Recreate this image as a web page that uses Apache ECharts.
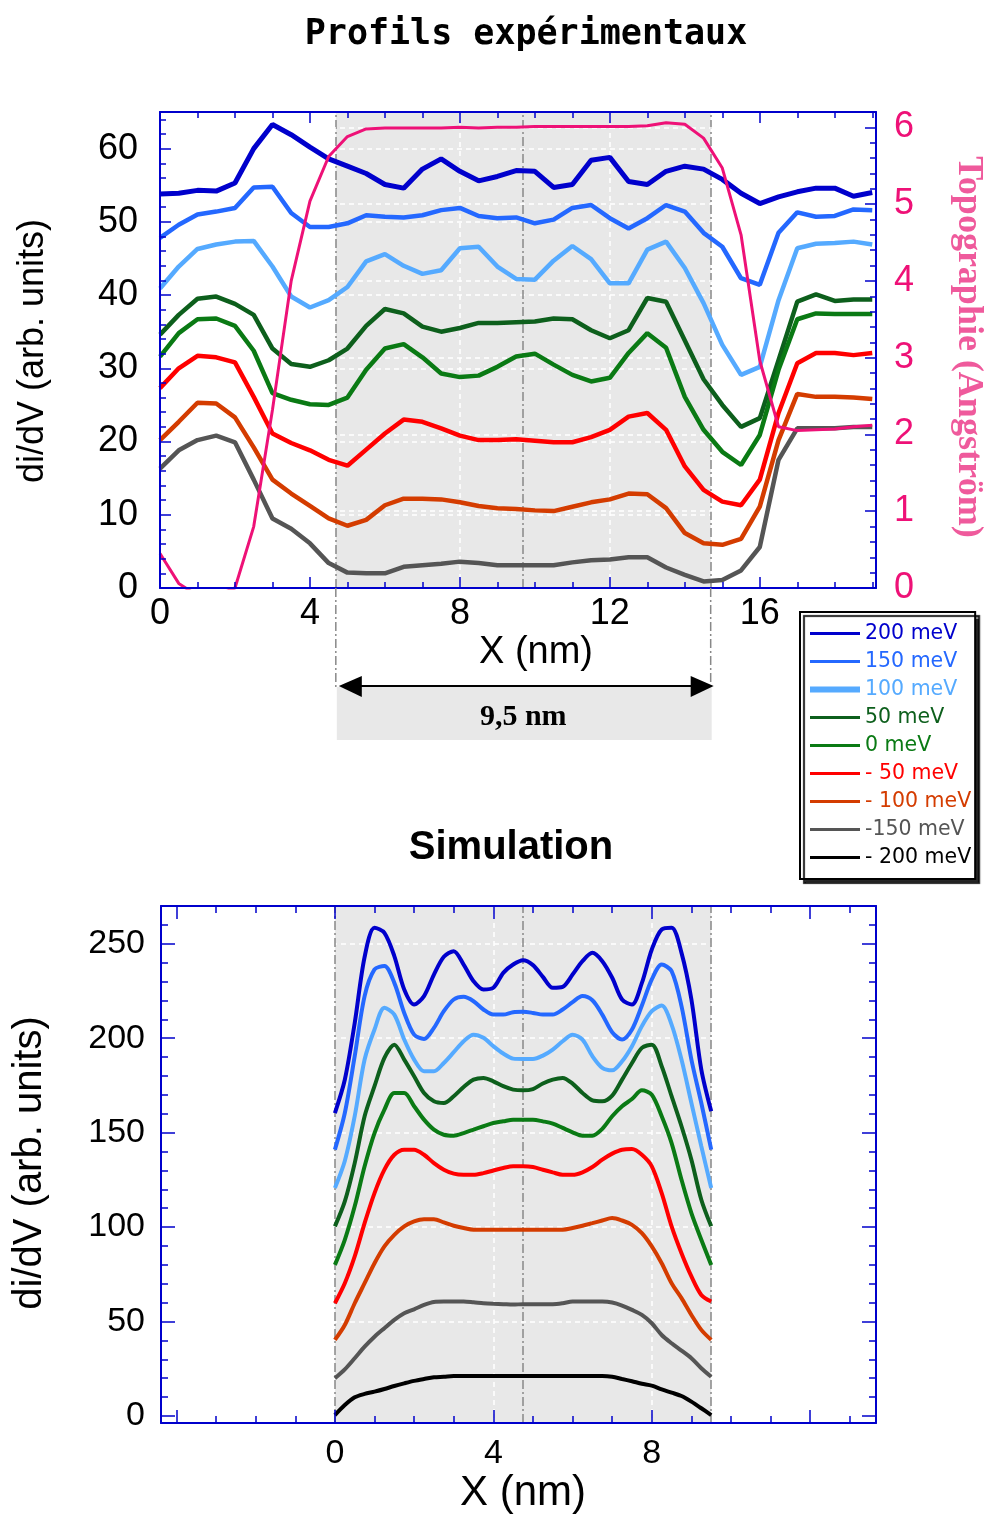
<!DOCTYPE html>
<html><head><meta charset="utf-8">
<script src="https://cdn.jsdelivr.net/npm/echarts@6/dist/echarts.min.js"></script>
<style>html,body{margin:0;padding:0;background:#fff}#c{width:991px;height:1515px}</style>
</head><body><div id="c"></div>
<script>
// ---------- DATA ----------
const names = ['200 meV','150 meV','100 meV','50 meV','0 meV','- 50 meV','- 100 meV','-150 meV','- 200 meV'];
const colors = ['#0000cc','#2468ff','#55aaff','#0d5f1c','#0a7a14','#ff0000','#d43c00','#555555','#000000'];

// Experimental profiles (X in nm)
const expX = [0,0.5,1,1.5,2,2.5,3,3.5,4,4.5,5,5.5,6,6.5,7,7.5,8,8.5,9,9.5,10,10.5,11,11.5,12,12.5,13,13.5,14,14.5,15,15.5,16,16.5,17,17.5,18,18.5,19];
const exp200 = [53.8,53.9,54.3,54.2,55.3,60.0,63.3,61.9,60.2,58.6,57.6,56.6,55.1,54.6,57.2,58.6,56.9,55.6,56.2,57.0,56.9,54.7,55.1,58.4,58.8,55.5,55.1,56.9,57.6,57.2,55.8,53.9,52.5,53.4,54.1,54.6,54.6,53.5,54.0];
const exp150 = [47.8,49.6,51.0,51.4,51.9,54.7,54.8,51.2,49.3,49.3,49.8,50.9,50.7,50.6,50.9,51.6,51.9,50.8,50.5,50.6,49.8,50.3,51.9,52.3,50.5,49.1,50.5,52.3,51.4,48.5,46.6,42.3,41.4,48.5,51.3,50.7,50.8,51.7,51.6];
const exp100 = [40.9,43.9,46.3,46.9,47.3,47.4,43.9,39.8,38.3,39.3,41.1,44.6,45.6,44.0,42.9,43.4,46.4,46.6,43.9,42.2,42.1,44.7,46.7,44.9,41.6,41.6,46.2,47.3,43.7,38.9,33.2,29.1,30.2,39.3,46.4,47.0,47.1,47.3,46.9];
const exp50 = [34.6,37.3,39.5,39.8,38.8,37.3,32.7,30.6,30.2,31.1,32.7,35.8,38.1,37.5,35.7,35.0,35.5,36.2,36.2,36.3,36.4,36.8,36.7,35.2,34.1,35.2,39.6,39.1,33.8,28.5,25.0,22.0,23.2,31.1,39.1,40.1,39.2,39.4,39.4];
const exp0 = [31.6,34.8,36.7,36.8,35.8,32.4,26.6,25.7,25.1,25.0,26.0,29.8,32.7,33.3,31.5,29.3,28.8,29.0,30.2,31.6,32.0,30.5,29.1,28.2,28.7,32.1,34.8,32.8,26.1,21.6,18.6,16.8,20.9,29.8,36.7,37.5,37.4,37.4,37.4];
const expM50 = [27.3,30.0,31.7,31.5,30.8,26.1,21.1,19.8,18.8,17.5,16.7,18.9,21.1,23.0,22.7,21.8,20.8,20.2,20.2,20.3,20.1,19.9,19.9,20.6,21.6,23.4,23.9,21.6,16.6,13.4,11.8,11.3,14.8,23.9,30.7,32.1,32.1,31.8,32.1];
const expM100 = [20.2,22.7,25.3,25.2,23.3,19.2,14.8,12.9,11.2,9.5,8.5,9.3,11.3,12.2,12.2,12.1,11.7,11.2,10.9,10.8,10.6,10.5,11.1,11.7,12.1,12.9,12.8,10.9,7.5,6.1,5.9,6.7,11.1,20.2,26.5,26.1,26.1,26.0,25.8];
const expM150 = [16.3,18.8,20.2,20.8,19.9,14.8,9.5,8.1,6.1,3.4,2.1,2.0,2.0,2.9,3.1,3.3,3.6,3.4,3.1,3.1,3.1,3.1,3.5,3.8,3.9,4.2,4.2,2.8,1.8,0.9,1.1,2.4,5.6,17.5,21.8,21.8,21.8,22.0,22.0];
const topo = [0.45,0.06,-0.1,-0.1,0.0,0.8,2.32,4.0,5.04,5.62,5.88,5.98,5.99,5.99,5.99,5.99,6.0,5.99,6.0,6.0,6.01,6.01,6.01,6.01,6.01,6.01,6.02,6.06,6.04,5.86,5.47,4.6,2.96,2.1,2.05,2.06,2.07,2.1,2.12];

// Simulation (X in nm)
const simX = [0,0.25,0.5,0.75,1,1.25,1.5,1.75,2,2.25,2.5,2.75,3,3.25,3.5,3.75,4,4.25,4.5,4.75,5,5.25,5.5,5.75,6,6.25,6.5,6.75,7,7.25,7.5,7.75,8,8.25,8.5,8.75,9,9.25,9.5];
const sim200 = [160.4,178,208,243,258.5,255.8,243.5,225.8,217.8,222.3,233.7,243.1,246.1,239,230.2,225.8,226.7,234.6,239,241.3,238.7,232.5,226.7,227.2,233.7,240.8,245.2,240.8,232,220.5,217.8,229.3,247,257.6,258.5,245.2,220.5,183.4,161.3];
const sim150 = [141,160.4,190.5,222.3,236.4,238.2,229.3,213.4,201.9,199.6,205.5,214.3,220.5,221.9,219.6,215.2,212.5,212.5,213.8,214,213.4,212.5,212.5,215.2,219.1,222.3,220.1,212.5,203.2,199.3,204.6,217.3,231.1,239,235.5,217,188.7,165.7,141];
const sim100 = [120.7,135,158.7,188.7,204.6,216.1,212.5,199.3,188.7,182.5,182.5,186.9,192.6,198.4,201.9,200.2,195.8,191.9,189.2,189,189,190.8,194,198.4,201.9,199.3,190.5,184.3,183,187.8,195.8,206.4,214.3,217.3,207.2,188.7,165.7,142.8,120.7];
const sim50 = [100.4,113.6,133.9,158.7,174.6,189.6,196.6,188.7,179.9,171,166.6,165.7,169.3,174.2,178.1,179,177.2,174.6,172.8,172.4,173.1,176,178.1,179,176,171,167.1,166.6,169.6,178.1,186.9,194.9,196.6,185.2,169.3,153.4,135.7,114.5,100.4];
const sim0 = [80,93.3,111,132.2,149.8,162.2,171,171,164,156.9,151.6,148.9,148.4,149.8,151.6,153.4,155.1,156,156.9,156.9,156.9,156,154.8,152.5,150.2,148.4,148.4,152,158.7,164,167.8,172.4,170.1,158.7,144.5,125.1,107.4,93.3,80];
const simM50 = [59.7,70.3,84.5,102.1,118,130.4,138.3,141,141,138.3,133.9,130.4,128.3,127.7,127.7,128.6,130,131.3,132.2,132.2,131.8,130.4,129,127.7,127.7,129,131.8,135.7,138.9,141,141.3,138.3,132.2,118,100.4,86.2,73.9,64.1,60.6];
const simM100 = [40.3,48.2,59.7,70.3,80.9,89.8,95.9,100.4,103,104.2,104.2,102.5,100.7,99.5,98.6,98.6,98.6,98.6,98.6,98.6,98.6,98.6,98.6,98.6,99.5,100.7,102.1,103.5,104.8,103.5,101.2,96.8,89.8,80.9,70.3,62.4,53.5,45.6,40.3];
const simM150 = [20,24.7,30.6,36.7,42,46.5,50.9,54.4,56.5,58.8,60.4,60.6,60.6,60.6,60.2,59.7,59.4,59.2,59,59.2,59.2,59.2,59.2,59.7,60.6,60.6,60.6,60.6,60.1,58.5,56.2,53.5,49.1,42.9,38.5,34.6,30.6,25.3,20.8];
const simM200 = [0.5,5.8,9.9,11.7,12.9,14.3,15.9,17.3,18.6,19.6,20.5,20.8,21.2,21.2,21.2,21.2,21.2,21.2,21.2,21.2,21.2,21.2,21.2,21.2,21.2,21.2,21.2,21.2,20.8,19.6,18.4,17.1,16.1,14.1,12.4,10.6,7.6,4.1,0.5];

// Regions / reference lines
const expBand = [4.69, 14.69];
const expMid = [9.69];
const simBand = [0, 9.5];
const simMid = [4.75];
const expGridX = [8, 12];
const expGridY = [10, 20, 30, 40, 50, 60];
const expGridTopo = [1, 2, 3, 4, 5, 6];
const simGridX = [4, 8];
const simGridY = [50, 100, 150, 200, 250];

// Tick positions for simulation axes
const simXMajor = [-4, 0, 4, 8, 12];
const simXLabels = [0, 4, 8];
const simXMinor = [-4,-3,-2,-1,0,1,2,3,4,5,6,7,8,9,10,11,12,13];
const simYMajor = [0, 50, 100, 150, 200, 250];
const simYMinor = [0,10,20,30,40,50,60,70,80,90,100,110,120,130,140,150,160,170,180,190,200,210,220,230,240,250,260,270];

// ---------- CHART ----------
const chart = echarts.init(document.getElementById('c'), null, {renderer: 'canvas', width: 991, height: 1515});
const AX = '#0000cc';
const PINK = '#ee1177';
const FONT = 'Liberation Sans';
const axLine = {show: true, onZero: false, lineStyle: {color: AX, width: 2}};
const noLine = {show: false, onZero: false};
const tk = (len, extra) => Object.assign({show: true, inside: true, length: len, lineStyle: {color: AX, width: 1.5}}, extra || {});
const mtk = (n) => ({show: true, splitNumber: n, length: 6, lineStyle: {color: AX, width: 1.5}});
const noSplit = {show: false};

const expSeries = [exp200, exp150, exp100, exp50, exp0, expM50, expM100, expM150];
const simSeries = [sim200, sim150, sim100, sim50, sim0, simM50, simM100, simM150, simM200];
const pair = (xs, ys) => xs.map((x, i) => [x, ys[i]]);

const white = {color: '#ffffff', type: [5, 4], width: 1.5};
const dashdot = {color: '#888888', type: [9, 3, 2, 3], width: 1.5};

const series = [];
series.push({
  type: 'line', name: '_bandTop', xAxisIndex: 0, yAxisIndex: 0, data: [], silent: true,
  markArea: {silent: true, itemStyle: {color: '#e8e8e8'}, data: [[{xAxis: expBand[0]}, {xAxis: expBand[1]}]]},
  markLine: {silent: true, symbol: 'none', label: {show: false}, animation: false,
    data: [].concat(
      expGridY.map(v => ({yAxis: v, lineStyle: white})),
      expGridX.map(v => ({xAxis: v, lineStyle: white})),
      expBand.concat(expMid).map(v => ({xAxis: v, lineStyle: dashdot}))
    )}
});
series.push({
  type: 'line', name: '_bandTopR', xAxisIndex: 0, yAxisIndex: 1, data: [], silent: true,
  markLine: {silent: true, symbol: 'none', label: {show: false}, animation: false,
    data: expGridTopo.map(v => ({yAxis: v, lineStyle: white}))}
});
series.push({
  type: 'line', name: '_bandBot', xAxisIndex: 2, yAxisIndex: 2, data: [], silent: true,
  markArea: {silent: true, itemStyle: {color: '#e8e8e8'}, data: [[{xAxis: simBand[0]}, {xAxis: simBand[1]}]]},
  markLine: {silent: true, symbol: 'none', label: {show: false}, animation: false,
    data: [].concat(
      simGridY.map(v => ({yAxis: v, lineStyle: white})),
      simGridX.map(v => ({xAxis: v, lineStyle: white})),
      simBand.concat(simMid).map(v => ({xAxis: v, lineStyle: dashdot}))
    )}
});
expSeries.forEach((ys, i) => series.push({
  type: 'line', name: names[i], xAxisIndex: 0, yAxisIndex: 0, z: 10,
  data: pair(expX, ys), symbol: 'none', showSymbol: false,
  lineStyle: {color: colors[i], width: i === 0 ? 5 : 4.5}, itemStyle: {color: colors[i]}
}));
series.push({
  type: 'line', name: 'Topographie', xAxisIndex: 0, yAxisIndex: 1, z: 11,
  data: pair(expX, topo), symbol: 'none', showSymbol: false,
  lineStyle: {color: PINK, width: 3}, itemStyle: {color: PINK}
});
simSeries.forEach((ys, i) => series.push({
  type: 'line', name: names[i], xAxisIndex: 2, yAxisIndex: 2, z: 10,
  data: pair(simX, ys), symbol: 'none', showSymbol: false, smooth: 0.3,
  lineStyle: {color: colors[i], width: 4}, itemStyle: {color: colors[i]}
}));

const option = {
  animation: false,
  backgroundColor: '#ffffff',
  grid: [
    {left: 160, top: 112, width: 716, height: 476},
    {left: 161, top: 906, width: 715, height: 517}
  ],
  xAxis: [
    {gridIndex: 0, type: 'value', position: 'bottom', min: 0, max: 19.1, interval: 4, z: 20,
     axisLine: axLine, axisTick: tk(11), minorTick: mtk(4),
     axisLabel: {margin: 8, fontFamily: FONT, fontSize: 36, color: '#000', formatter: v => (v % 4 === 0 ? String(v) : '')},
     splitLine: noSplit, minorSplitLine: noSplit},
    {gridIndex: 0, type: 'value', position: 'top', min: 0, max: 19.1, interval: 4, z: 20,
     axisLine: axLine, axisTick: tk(11), minorTick: mtk(4),
     axisLabel: {show: false}, splitLine: noSplit},
    {gridIndex: 1, type: 'value', position: 'bottom', min: -4.39, max: 13.66, z: 20,
     axisLine: axLine, axisTick: tk(13, {customValues: simXMajor}),
     axisLabel: {customValues: simXLabels, margin: 14, fontFamily: FONT, fontSize: 34, color: '#000'},
     splitLine: noSplit},
    {gridIndex: 1, type: 'value', position: 'bottom', min: -4.39, max: 13.66, z: 20,
     axisLine: noLine, axisTick: tk(7, {customValues: simXMinor}), axisLabel: {show: false}, splitLine: noSplit},
    {gridIndex: 1, type: 'value', position: 'top', min: -4.39, max: 13.66, z: 20,
     axisLine: axLine, axisTick: tk(13, {customValues: simXMajor}), axisLabel: {show: false}, splitLine: noSplit},
    {gridIndex: 1, type: 'value', position: 'top', min: -4.39, max: 13.66, z: 20,
     axisLine: noLine, axisTick: tk(7, {customValues: simXMinor}), axisLabel: {show: false}, splitLine: noSplit}
  ],
  yAxis: [
    {gridIndex: 0, type: 'value', position: 'left', min: 0, max: 65, interval: 10, z: 20,
     axisLine: axLine, axisTick: tk(11), minorTick: mtk(5),
     axisLabel: {margin: 22, fontFamily: FONT, fontSize: 36, color: '#000', formatter: v => (v % 10 === 0 ? String(v) : '')},
     splitLine: noSplit},
    {gridIndex: 0, type: 'value', position: 'right', min: 0, max: 6.2, interval: 1, z: 20,
     axisLine: axLine, axisTick: tk(11), minorTick: mtk(5),
     axisLabel: {margin: 18, fontFamily: FONT, fontSize: 36, color: PINK, formatter: v => (Number.isInteger(v) ? String(v) : '')},
     splitLine: noSplit},
    {gridIndex: 1, type: 'value', position: 'left', min: -3.7, max: 270, z: 20,
     axisLine: axLine, axisTick: tk(14, {customValues: simYMajor}),
     axisLabel: {customValues: simYMajor, margin: 16, fontFamily: FONT, fontSize: 34, color: '#000'},
     splitLine: noSplit},
    {gridIndex: 1, type: 'value', position: 'left', min: -3.7, max: 270, z: 20,
     axisLine: noLine, axisTick: tk(7, {customValues: simYMinor}), axisLabel: {show: false}, splitLine: noSplit},
    {gridIndex: 1, type: 'value', position: 'right', min: -3.7, max: 270, z: 20,
     axisLine: axLine, axisTick: tk(14, {customValues: simYMajor}), axisLabel: {show: false}, splitLine: noSplit},
    {gridIndex: 1, type: 'value', position: 'right', min: -3.7, max: 270, z: 20,
     axisLine: noLine, axisTick: tk(7, {customValues: simYMinor}), axisLabel: {show: false}, splitLine: noSplit}
  ],
  legend: {
    orient: 'vertical', left: 800, top: 612, z: 30, selectedMode: false,
    backgroundColor: '#ffffff', borderColor: '#000000', borderWidth: 2, borderRadius: 0,
    shadowColor: 'rgba(0,0,0,0.85)', shadowOffsetX: 4, shadowOffsetY: 4, shadowBlur: 1,
    padding: [11, 4, 11, 7], itemWidth: 50, itemHeight: 20, itemGap: 7,
    textStyle: {fontFamily: 'DejaVu Sans', fontSize: 20.5},
    data: names.map((n, i) => ({
      name: n, textStyle: {color: colors[i]},
      lineStyle: {width: i === 2 ? 6 : 3, color: colors[i]},
      itemStyle: {color: 'rgba(0,0,0,0)', borderColor: 'rgba(0,0,0,0)', borderWidth: 0, opacity: 0}
    }))
  },
  series: series
};
chart.setOption(option);

// ---------- ANNOTATIONS (positions derived from axes) ----------
const pa = chart.convertToPixel({xAxisIndex: 0, yAxisIndex: 0}, [expBand[0], 0]);
const pb = chart.convertToPixel({xAxisIndex: 0, yAxisIndex: 0}, [expBand[1], 0]);
const arrowY = 686;
const txt = (text, x, y, size, opts) => Object.assign({
  type: 'text', x: x, y: y, z: 50,
  style: Object.assign({text: text, fontFamily: FONT, fontSize: size, fill: '#000', align: 'center', verticalAlign: 'middle'}, (opts && opts.style) || {})
}, opts && opts.rotation !== undefined ? {rotation: opts.rotation} : {});

chart.setOption({
  graphic: [
    {type: 'line', z: 40, shape: {x1: pa[0], y1: pa[1], x2: pa[0], y2: arrowY + 4}, style: {stroke: '#888', lineWidth: 1.5, lineDash: [9, 3, 2, 3]}},
    {type: 'line', z: 40, shape: {x1: pb[0], y1: pb[1], x2: pb[0], y2: arrowY + 4}, style: {stroke: '#888', lineWidth: 1.5, lineDash: [9, 3, 2, 3]}},
    {type: 'rect', z: 41, shape: {x: pa[0] + 1, y: arrowY + 1, width: pb[0] - pa[0], height: 53}, style: {fill: '#e8e8e8'}},
    {type: 'line', z: 42, shape: {x1: pa[0] + 20, y1: arrowY, x2: pb[0] - 18, y2: arrowY}, style: {stroke: '#000', lineWidth: 2}},
    {type: 'polygon', z: 42, shape: {points: [[pa[0] + 3, arrowY], [pa[0] + 26, arrowY - 10], [pa[0] + 26, arrowY + 11]]}, style: {fill: '#000'}},
    {type: 'polygon', z: 42, shape: {points: [[pb[0] + 3, arrowY], [pb[0] - 20, arrowY - 10], [pb[0] - 20, arrowY + 11]]}, style: {fill: '#000'}},
    txt('9,5 nm', (pa[0] + pb[0]) / 2, arrowY + 31, 30, {style: {fontFamily: 'Liberation Serif', fontWeight: 'bold'}}),
    txt('Profils expérimentaux', 526, 35, 35, {style: {fontFamily: 'DejaVu Sans Mono', fontWeight: 'bold'}}),
    txt('Simulation', 511, 848, 40, {style: {fontWeight: 'bold'}}),
    txt('di/dV (arb. units)', 33, 351, 36, {rotation: Math.PI / 2}),
    txt('Topographie (Angström)', 968, 347, 36, {rotation: -Math.PI / 2, style: {fontFamily: 'Liberation Serif', fontWeight: 'bold', fill: '#ef5a9c'}}),
    txt('X (nm)', 536, 653, 38),
    txt('di/dV (arb. units)', 30, 1163, 40, {rotation: Math.PI / 2}),
    txt('X (nm)', 523, 1493, 42)
  ]
});
</script>
</body></html>
